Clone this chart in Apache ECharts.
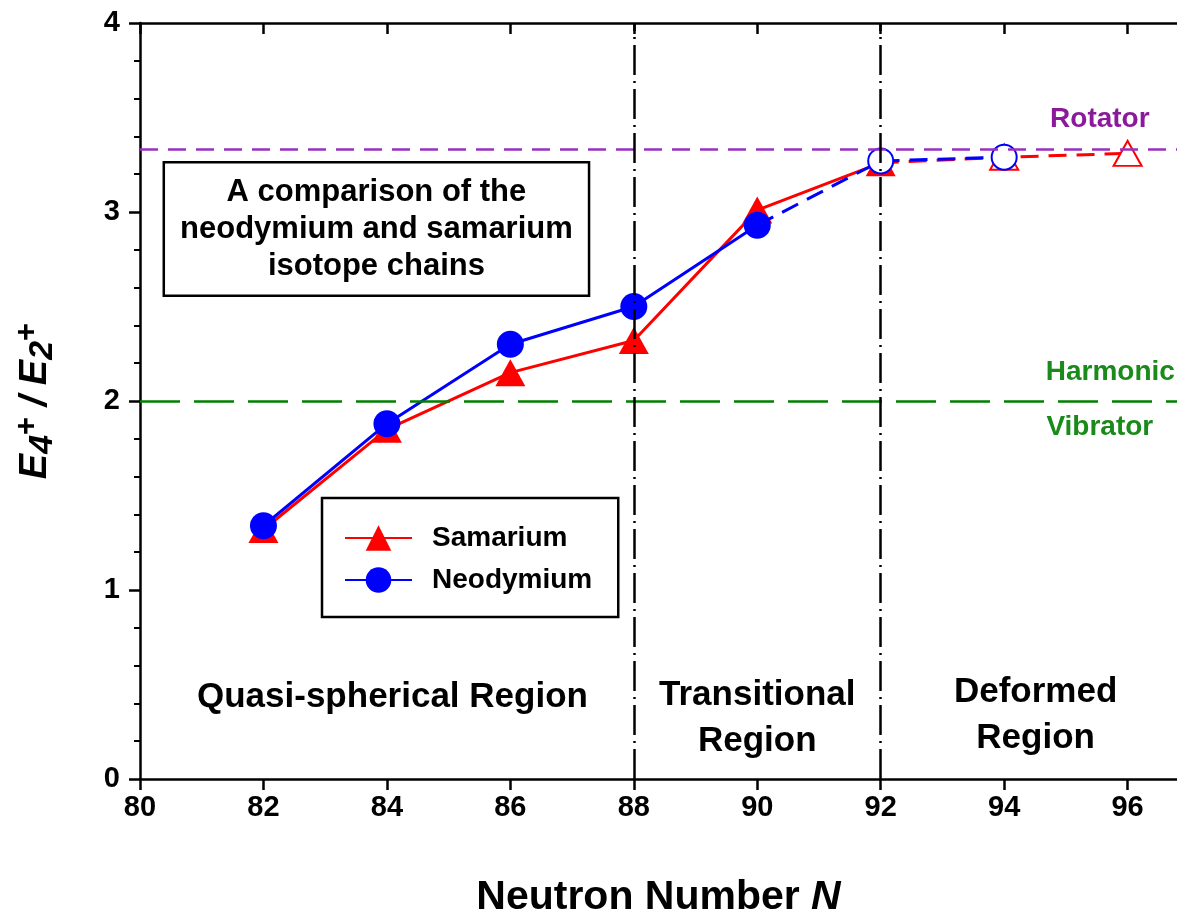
<!DOCTYPE html>
<html><head><meta charset="utf-8">
<script src="https://cdn.jsdelivr.net/npm/echarts@6/dist/echarts.min.js"></script>
<style>html,body{margin:0;padding:0;background:#fff}#c{width:1177px;height:918px}</style>
</head><body><div id="c"></div>
<script>
// ---- data ----
const smN = [82, 84, 86, 88, 90, 92];
const smRatio = [1.32, 1.85, 2.15, 2.32, 3.01, 3.26];
const smPredN = [92, 94, 96];
const smPredRatio = [3.26, 3.29, 3.31];
const ndN = [82, 84, 86, 88, 90];
const ndRatio = [1.34, 1.88, 2.30, 2.50, 2.93];
const ndPredN = [90, 92, 94];
const ndPredRatio = [2.93, 3.27, 3.29];
const rotatorLevel = 3.33;
const vibratorLevel = 2.0;
const regionBounds = [88, 92];
const xTicks = [80, 82, 84, 86, 88, 90, 92, 94, 96];
const yTicks = [0, 1, 2, 3, 4];

const FF = "'Liberation Sans', Arial, sans-serif";
const RED = '#ff0000', BLUE = '#0000ff';
const pair = (xs, ys) => xs.map((x, i) => [x, ys[i]]);

const chart = echarts.init(document.getElementById('c'), null, {renderer: 'canvas'});

const annotations = [
  {value: [83.83, 2.91], text: 'A comparison of the\nneodymium and samarium\nisotope chains', box: true},
  {value: [84.09, 0.43], text: 'Quasi-spherical Region'},
  {value: [90, 0.32], text: 'Transitional\nRegion'},
  {value: [94.51, 0.335], text: 'Deformed\nRegion'},
  {value: [95.55, 3.49], text: 'Rotator', color: '#8b1a9b', size: 28},
  {value: [95.72, 2.15], text: 'Harmonic', color: '#1a8a1a', size: 28},
  {value: [95.55, 1.86], text: 'Vibrator', color: '#1a8a1a', size: 28}
];

const option = {
  animation: false,
  backgroundColor: '#fff',
  textStyle: {fontFamily: FF},
  grid: {left: 140, right: 0, top: 23, bottom: 139, containLabel: false, outerBoundsMode: 'none'},
  legend: {
    orient: 'vertical', left: 322, top: 498,
    data: ['Samarium', 'Neodymium'],
    borderColor: '#000', borderWidth: 2.5, borderRadius: 0,
    padding: [26, 26, 23, 22], itemGap: 14, itemWidth: 67, itemHeight: 32,
    textStyle: {fontFamily: FF, fontSize: 28, fontWeight: 'bold', color: '#000', padding: [0, 0, 0, 15]}
  },
  xAxis: [{
    type: 'value', min: 80, max: 96.8, interval: 2, position: 'bottom',
    name: '{b|Neutron Number }{i|N}', nameLocation: 'middle', nameGap: 98,
    nameTextStyle: {rich: {
      b: {fontFamily: FF, fontSize: 41, fontWeight: 'bold', color: '#000'},
      i: {fontFamily: FF, fontSize: 41, fontWeight: 'bold', fontStyle: 'italic', color: '#000'}}},
    axisLine: {show: true, lineStyle: {color: '#000', width: 2.5}},
    axisTick: {show: true, inside: false, length: 11, customValues: xTicks, lineStyle: {color: '#000', width: 2.5}},
    axisLabel: {show: true, margin: 14, fontFamily: FF, fontSize: 29, fontWeight: 'bold', color: '#000',
      showMaxLabel: false, formatter: v => (xTicks.includes(v) ? String(v) : '')},
    splitLine: {show: false}
  }, {
    type: 'value', min: 80, max: 96.8, interval: 2, position: 'top',
    axisLine: {show: true, onZero: false, lineStyle: {color: '#000', width: 2.5}},
    axisTick: {show: true, inside: true, length: 11, customValues: xTicks, lineStyle: {color: '#000', width: 2.5}},
    axisLabel: {show: false}, splitLine: {show: false}
  }],
  yAxis: [{
    type: 'value', min: 0, max: 4, interval: 1,
    name: '{e|E}{s|4}{p|+}{e| / E}{s|2}{p|+}', nameLocation: 'middle', nameRotate: 90, nameGap: 80,
    nameTextStyle: {rich: {
      e: {fontFamily: FF, fontSize: 38, fontWeight: 'bold', fontStyle: 'italic', color: '#000', lineHeight: 48, verticalAlign: 'middle'},
      s: {fontFamily: FF, fontSize: 34, fontWeight: 'bold', fontStyle: 'italic', color: '#000', lineHeight: 48, verticalAlign: 'bottom', padding: [12, 0, 0, 0]},
      p: {fontFamily: FF, fontSize: 31, fontWeight: 'bold', color: '#000', lineHeight: 48, verticalAlign: 'top'}}},
    axisLine: {show: true, onZero: false, lineStyle: {color: '#000', width: 2.5}},
    axisTick: {show: true, inside: false, length: 11, lineStyle: {color: '#000', width: 2.5}},
    minorTick: {show: true, splitNumber: 5, length: 6, lineStyle: {color: '#000', width: 2}},
    axisLabel: {show: true, margin: 20, fontFamily: FF, fontSize: 29, fontWeight: 'bold', color: '#000',
      formatter: v => (yTicks.includes(v) ? String(v) : '')},
    splitLine: {show: false}, minorSplitLine: {show: false}
  }],
  series: [
    {
      name: 'refLines', type: 'line', data: [], silent: true,
      markLine: {
        silent: true, symbol: 'none', label: {show: false}, animation: false,
        data: [
          {yAxis: rotatorLevel, lineStyle: {color: '#9b30c0', width: 2.5, type: [18, 10]}},
          {yAxis: vibratorLevel, lineStyle: {color: '#008000', width: 2.5, type: [40, 14]}},
          {xAxis: regionBounds[0], lineStyle: {color: '#000', width: 2.5, type: [30, 6, 2, 6]}},
          {xAxis: regionBounds[1], lineStyle: {color: '#000', width: 2.5, type: [30, 6, 2, 6]}}
        ]
      }
    },
    {
      name: 'Samarium', type: 'line', data: pair(smN, smRatio),
      symbol: 'triangle', symbolSize: [30, 27], z: 3,
      lineStyle: {color: RED, width: 3}, itemStyle: {color: RED}
    },
    {
      name: 'SmPred', type: 'line', z: 3,
      data: pair(smPredN, smPredRatio).map((d, i) => ({value: d, symbol: i === 0 ? 'none' : 'emptyTriangle'})),
      symbolSize: [28, 25],
      lineStyle: {color: RED, width: 3, type: [18, 10]},
      itemStyle: {color: RED, borderColor: RED, borderWidth: 3}
    },
    {
      name: 'Neodymium', type: 'line', data: pair(ndN, ndRatio),
      symbol: 'circle', symbolSize: 27, z: 4,
      lineStyle: {color: BLUE, width: 3}, itemStyle: {color: BLUE}
    },
    {
      name: 'NdPred', type: 'line', z: 4,
      data: pair(ndPredN, ndPredRatio).map((d, i) => ({value: d, symbol: i === 0 ? 'none' : 'emptyCircle'})),
      symbolSize: 25,
      lineStyle: {color: BLUE, width: 3, type: [18, 10]},
      itemStyle: {color: BLUE, borderColor: BLUE, borderWidth: 3}
    },
    {
      name: 'annotations', type: 'scatter', silent: true, symbolSize: 0, z: 5,
      itemStyle: {opacity: 1},
      data: annotations.map(a => ({
        value: a.value,
        label: {
          show: true, position: 'inside', formatter: a.text, align: 'center', verticalAlign: 'middle',
          fontFamily: FF, fontWeight: 'bold', color: a.color || '#000', opacity: 1,
          fontSize: a.size || (a.box ? 31 : 35), lineHeight: a.box ? 37 : 46,
          backgroundColor: a.box ? '#fff' : 'transparent',
          borderColor: a.box ? '#000' : 'transparent', borderWidth: a.box ? 2.5 : 0,
          padding: a.box ? [10, 15, 10, 15] : 0
        }
      }))
    }
  ]
};
chart.setOption(option);
</script></body></html>
